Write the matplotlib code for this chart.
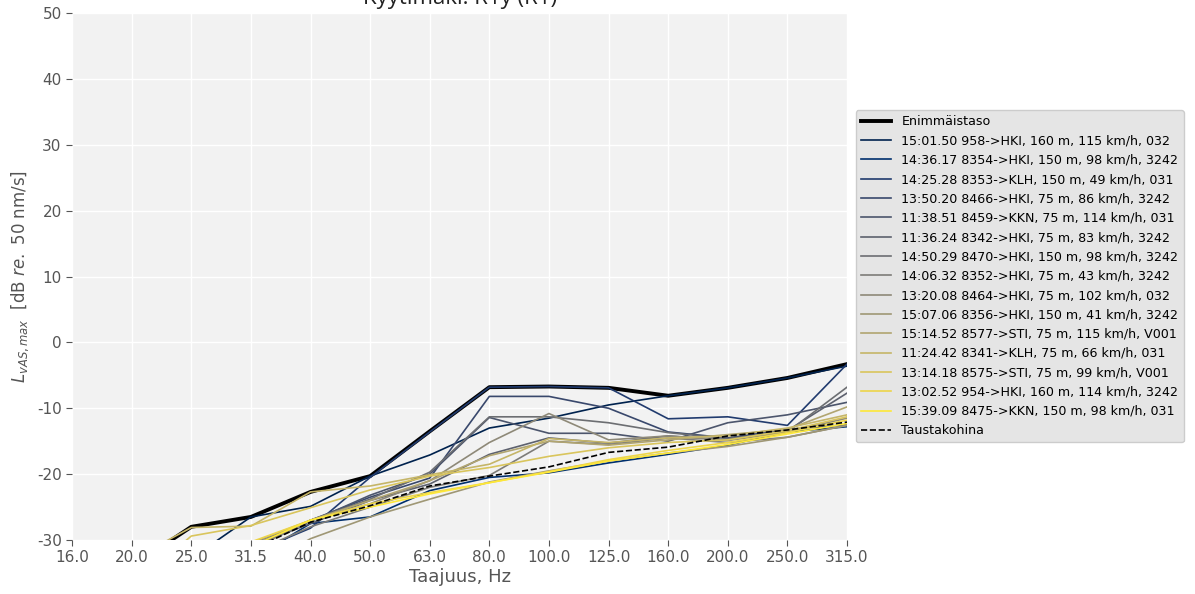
import numpy as np
import matplotlib
matplotlib.use('Agg')
import matplotlib.pyplot as plt

plt.rcParams['axes.unicode_minus'] = False

freqs = ['16.0', '20.0', '25.0', '31.5', '40.0', '50.0', '63.0', '80.0',
         '100.0', '125.0', '160.0', '200.0', '250.0', '315.0']

labels = ['15:01.50 958->HKI, 160 m, 115 km/h, 032',
          '14:36.17 8354->HKI, 150 m, 98 km/h, 3242',
          '14:25.28 8353->KLH, 150 m, 49 km/h, 031',
          '13:50.20 8466->HKI, 75 m, 86 km/h, 3242',
          '11:38.51 8459->KKN, 75 m, 114 km/h, 031',
          '11:36.24 8342->HKI, 75 m, 83 km/h, 3242',
          '14:50.29 8470->HKI, 150 m, 98 km/h, 3242',
          '14:06.32 8352->HKI, 75 m, 43 km/h, 3242',
          '13:20.08 8464->HKI, 75 m, 102 km/h, 032',
          '15:07.06 8356->HKI, 150 m, 41 km/h, 3242',
          '15:14.52 8577->STI, 75 m, 115 km/h, V001',
          '11:24.42 8341->KLH, 75 m, 66 km/h, 031',
          '13:14.18 8575->STI, 75 m, 99 km/h, V001',
          '13:02.52 954->HKI, 160 m, 114 km/h, 3242',
          '15:39.09 8475->KKN, 150 m, 98 km/h, 031']

# measured levels, dB
passes = [
    [-45, -40, -32.8, -26.5, -24.9, -20.3, -17.1, -13.0, -11.5, -9.5, -8.1, -6.9, -5.4, -3.6],
    [-45, -42, -38, -33, -27.5, -26.5, -22.5, -20.5, -19.8, -18.3, -17.0, -15.6, -13.6, -12.8],
    [-48, -44, -38, -32, -28.2, -20.5, -13.6, -6.8, -6.7, -6.9, -11.6, -11.3, -12.6, -3.3],
    [-45, -40, -36, -31, -27.0, -23.5, -20.6, -8.2, -8.2, -10.0, -13.6, -14.5, -13.2, -12.5],
    [-44, -40, -35, -30.5, -27.2, -23.2, -20.0, -11.4, -13.8, -13.8, -15.0, -12.2, -11.0, -9.1],
    [-44, -40, -36, -31, -27.5, -24.0, -21.5, -17.0, -14.5, -15.3, -14.2, -14.8, -13.4, -7.7],
    [-45, -41, -36, -31, -27.0, -23.8, -19.7, -11.3, -11.3, -12.2, -13.7, -14.6, -13.6, -6.8],
    [-46, -42, -37, -32, -28.0, -25.0, -22.0, -20.2, -15.0, -15.5, -14.5, -15.2, -14.4, -12.6],
    [-45, -41, -36, -31.5, -27.0, -24.5, -21.0, -15.2, -10.8, -14.8, -14.2, -14.9, -13.6, -11.5],
    [-48, -44, -40, -35, -29.8, -26.5, -23.8, -21.2, -19.5, -18.0, -16.8, -15.8, -14.4, -12.6],
    [-44, -40, -35, -30.5, -27.0, -24.0, -21.0, -17.2, -15.0, -15.6, -14.8, -14.0, -13.2, -9.8],
    [-38, -33, -28.1, -27.9, -22.7, -21.8, -20.1, -18.5, -14.6, -15.2, -14.5, -14.2, -13.0, -11.0],
    [-42, -37, -29.4, -27.8, -25.1, -22.4, -20.3, -19.0, -17.3, -16.0, -15.2, -14.8, -13.4, -11.3],
    [-44, -40, -35, -30.3, -27.0, -24.5, -22.8, -21.3, -19.6, -17.8, -16.4, -15.2, -13.7, -11.8],
    [-44, -40, -35, -31.0, -27.0, -25.0, -23.0, -21.3, -19.7, -18.0, -16.8, -15.5, -13.9, -12.3],
]

enimmaistaso = [-40, -34, -28.0, -26.5, -22.7, -20.3, -13.5, -6.8, -6.7, -6.9, -8.1, -6.9, -5.4, -3.3]
taustakohina = [-45, -40, -36, -31.5, -27.3, -24.8, -21.8, -20.3, -18.9, -16.7, -15.9, -14.2, -13.3, -12.1]

x = np.arange(len(freqs))
colors = plt.cm.cividis(np.linspace(0, 1, len(passes)))

fig = plt.figure(figsize=(11.95, 5.94), dpi=100)
ax = fig.add_axes([0.0603, 0.0909, 0.6485, 0.8872])
ax.set_facecolor('#f2f2f2')
for s in ax.spines.values():
    s.set_visible(False)
ax.grid(True, color='white', linewidth=1.0)
ax.set_axisbelow(True)

ax.plot(x, enimmaistaso, color='black', linewidth=2.8, label='Enimmäistaso')
for vals, c, lab in zip(passes, colors, labels):
    ax.plot(x, vals, color=c, linewidth=1.2, label=lab)
ax.plot(x, taustakohina, color='black', linestyle='--', linewidth=1.2, label='Taustakohina')

ax.set_xlim(0, len(freqs) - 1)
ax.set_ylim(-30, 50)
ax.set_xticks(x)
ax.set_xticklabels(freqs)
ax.set_yticks(np.arange(-30, 51, 10))
ax.tick_params(colors='#555555', labelsize=11, length=4, width=0.8)
ax.set_xlabel('Taajuus, Hz', fontsize=13, color='#555555', labelpad=2)
ax.set_ylabel(r'$L_{vAS,max}$  [dB $re.$ 50 nm/s]', fontsize=12, color='#555555')

fig.text(0.385, 0.985, 'Kyytimäki: R1y (R1)', fontsize=16, color='#222222',
         ha='center', va='bottom', family='Open Sans')

leg = fig.legend(loc='center left', bbox_to_anchor=(0.711, 0.535), fontsize=9.1,
                 facecolor='#e5e5e5', edgecolor='#cccccc', framealpha=1,
                 labelspacing=0.5, handlelength=2.4)

plt.savefig('out.png', dpi=100)
